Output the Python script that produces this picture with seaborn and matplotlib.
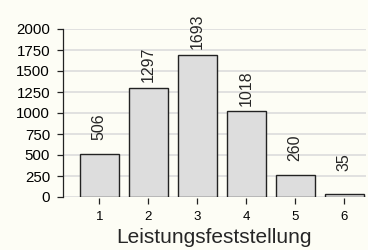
import matplotlib
matplotlib.use("Agg")
import matplotlib.pyplot as plt
import seaborn as sns
import pandas as pd

grades = ["1", "2", "3", "4", "5", "6"]
counts = [506, 1297, 1693, 1018, 260, 35]
yticks = [0, 250, 500, 750, 1000, 1250, 1500, 1750, 2000]

bg = "#FDFDF5"

sns.set_style("whitegrid")
plt.rcParams["font.family"] = ["Liberation Sans", "DejaVu Sans"]

df = pd.DataFrame({"grade": grades, "count": counts})

fig = plt.figure(figsize=(3.68, 2.5), dpi=100, facecolor=bg)
ax = fig.add_axes([0.170, 0.212, 0.825, 0.672])
ax.set_facecolor(bg)

sns.barplot(
    data=df, x="grade", y="count", ax=ax,
    color="#DDDDDD", edgecolor="#222222", linewidth=1.0,
    width=0.8, saturation=1,
)

# value labels: their top end sits a fixed distance above the bar
for p, v in zip(ax.patches, counts):
    ax.annotate(
        str(v), (p.get_x() + p.get_width() / 2, p.get_height()),
        xytext=(0, 29.5), textcoords="offset points",
        rotation=90, ha="center", va="top", fontsize=11.5,
    )

ax.set_ylim(0, 2000)
ax.set_xlim(-0.75, 5.45)
ax.set_yticks(yticks)
ax.grid(axis="y", color="#DCDCDC", linewidth=1.2)
ax.grid(axis="x", visible=False)
ax.set_axisbelow(True)

for s in ["top", "right", "bottom"]:
    ax.spines[s].set_visible(False)
ax.spines["left"].set_color("#222222")
ax.spines["left"].set_linewidth(0.9)
ax.spines["bottom"].set_position(("outward", 1))

ax.tick_params(axis="y", left=True, length=4, width=0.9, pad=5,
               labelsize=10.8, color="#222222", labelcolor="black")
ax.tick_params(axis="x", bottom=True, length=4, width=0.9, pad=5,
               labelsize=9.5, color="#222222", labelcolor="black")

ax.set_ylabel("")
ax.set_xlabel("Leistungsfeststellung", fontsize=15, labelpad=4)

fig.savefig("out.png", dpi=100, facecolor=bg)
